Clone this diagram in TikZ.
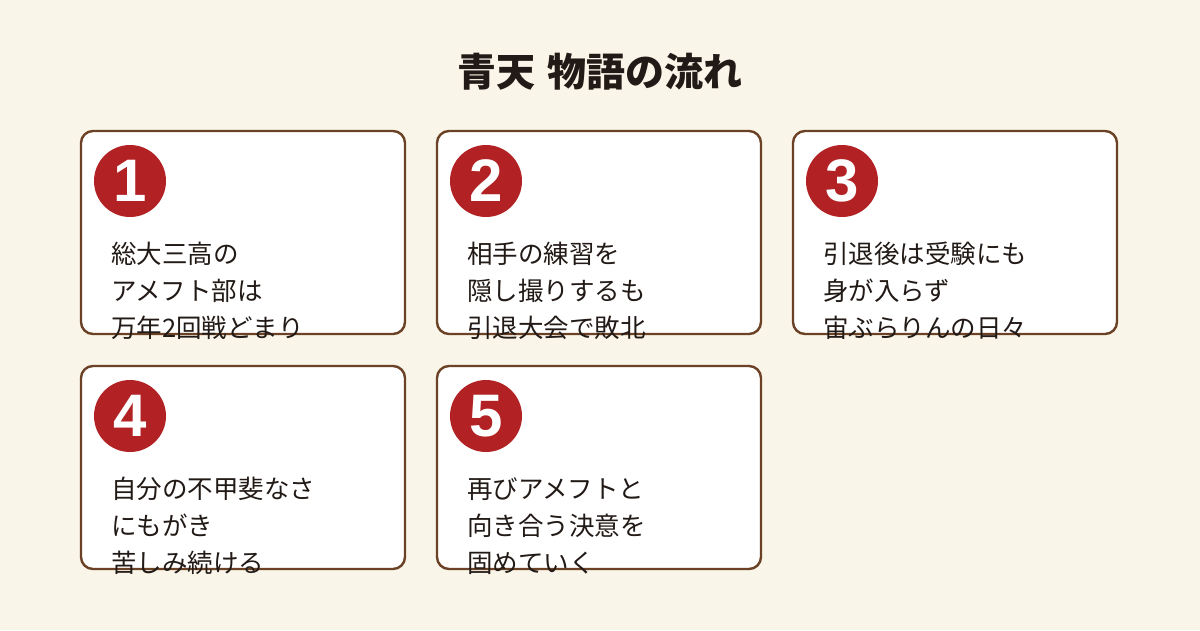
\documentclass[tikz,border=0pt]{standalone}
\definecolor{bgCream}{RGB}{250, 245, 233}
\definecolor{cardBrown}{RGB}{108, 66, 38}
\definecolor{numRed}{RGB}{178, 34, 36}
\definecolor{inkDark}{RGB}{34, 26, 22}
\usepackage{fontspec}
\newfontfamily\cjk{Noto Sans CJK JP}
\newfontfamily\numfont{Liberation Sans}
\usepackage{tikz}
\usetikzlibrary{positioning}

\begin{document}
\begin{tikzpicture}[x=1pt,y=-1pt,
                card/.style={draw=cardBrown,line width=2.4pt,fill=white,rounded corners=12pt,
                             minimum width=324pt,minimum height=203pt,inner sep=0pt},
                badge/.style={circle,fill=numRed,minimum size=72pt,inner sep=0pt,
                             text=white,font=\numfont\bfseries\fontsize{60}{60}\selectfont},
                story/.style={anchor=north west,inner sep=0pt,align=left,text=inkDark,
                             font=\cjk\fontsize{25.5}{37}\selectfont}
            ]
                \fill[bgCream] (0,0) rectangle (1200,630);
                \useasboundingbox (0,0) rectangle (1200,630);
                \node[text=inkDark,font=\cjk\bfseries\fontsize{39}{44}\selectfont] (title) at (600,72) {青天\hspace{4pt} 物語の流れ};
                % top row
                \node[card] (card1) at (243,232.5) {};
                \node[card] (card2) at (599,232.5) {};
                \node[card] (card3) at (955,232.5) {};
                \node[badge] (num1) at (130,181) {1};
                \node[badge] (num2) at (486,181) {2};
                \node[badge] (num3) at (842,181) {3};
                \node[story] (txt1) at (111,242) {総大三高の\\アメフト部は\\万年2回戦どまり};
                \node[story] (txt2) at (467,242) {相手の練習を\\隠し撮りするも\\引退大会で敗北};
                \node[story] (txt3) at (823,242) {引退後は受験にも\\身が入らず\\宙ぶらりんの日々};
                % bottom row
                \node[card] (card4) at (243,467.5) {};
                \node[card] (card5) at (599,467.5) {};
                \node[badge] (num4) at (130,416) {4};
                \node[badge] (num5) at (486,416) {5};
                \node[story] (txt4) at (111,477) {自分の不甲斐なさ\\にもがき\\苦しみ続ける};
                \node[story] (txt5) at (467,477) {再びアメフトと\\向き合う決意を\\固めていく};
            \end{tikzpicture}
\end{document}
